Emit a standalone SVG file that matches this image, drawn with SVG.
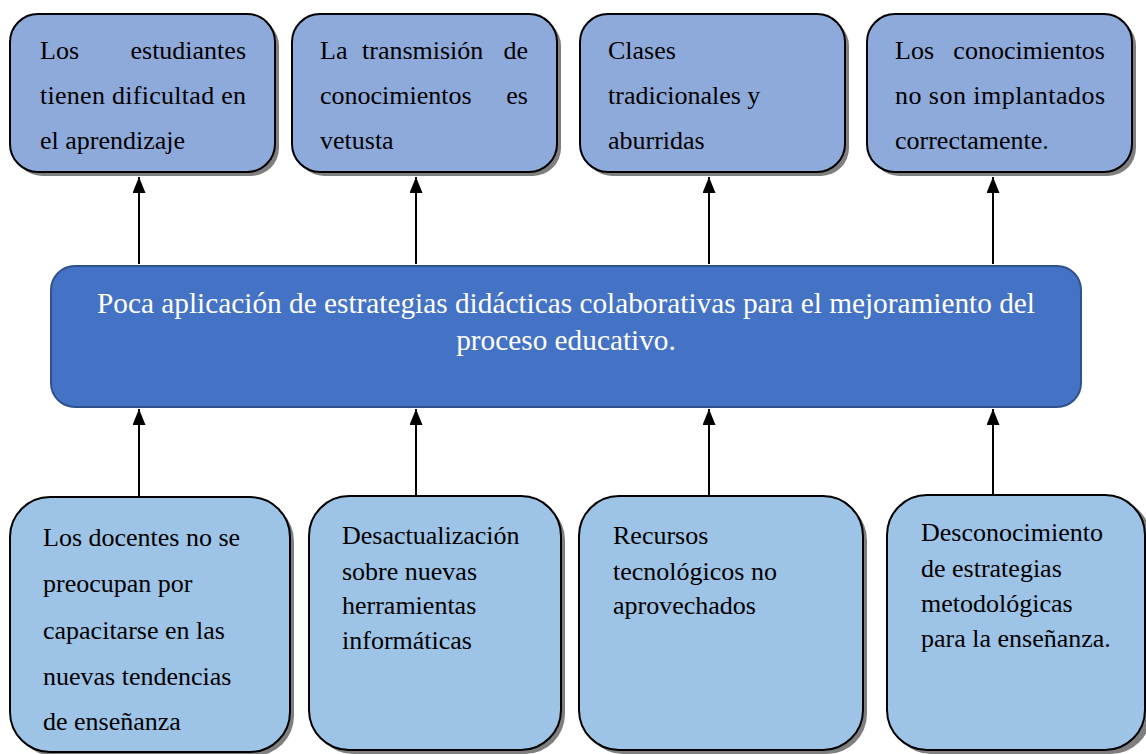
<svg xmlns="http://www.w3.org/2000/svg" width="1146" height="754" viewBox="0 0 1146 754">
<style>
.top{fill:#8EAADB;stroke:#000;stroke-width:2}
.bot{fill:#9DC3E6;stroke:#000;stroke-width:2}
.sh{fill:#7f7f7f}
.t{font-family:"Liberation Serif","Times New Roman",serif;font-size:26px;fill:#000}
.c{font-family:"Liberation Serif","Times New Roman",serif;font-size:29.3px;fill:#fff;text-anchor:middle}
.e{text-anchor:end}
.ln{stroke:#000;stroke-width:2;fill:none;marker-end:url(#ah)}
</style>
<defs>
<marker id="ah" markerWidth="16" markerHeight="13" refX="16" refY="6.5" orient="auto" markerUnits="userSpaceOnUse" viewBox="0 0 16 13">
<path d="M0 0 L16 6.5 L0 13 Z" fill="#000"/>
</marker>
</defs>
<rect width="1146" height="754" fill="#fff"/>
<g id="connectors">
<line class="ln" x1="139" y1="264" x2="139" y2="177"/>
<line class="ln" x1="416" y1="264" x2="416" y2="177"/>
<line class="ln" x1="709" y1="264" x2="709" y2="177"/>
<line class="ln" x1="993" y1="264" x2="993" y2="177"/>
<line class="ln" x1="139" y1="496" x2="139" y2="409"/>
<line class="ln" x1="416" y1="495" x2="416" y2="409"/>
<line class="ln" x1="709" y1="495" x2="709" y2="409"/>
<line class="ln" x1="993" y1="494" x2="993" y2="409"/>
</g>
<g id="top1">
<rect class="sh" x="14" y="18" width="265" height="158" rx="28"/>
<rect class="top" x="10" y="14" width="265" height="158" rx="28"/>
<text class="t" x="40" y="59">Los</text><text class="t e" x="246" y="59">estudiantes</text>
<text class="t" x="40" y="104" textLength="206" lengthAdjust="spacing">tienen dificultad en</text>
<text class="t" x="40" y="149">el aprendizaje</text>
</g>
<g id="top2">
<rect class="sh" x="296" y="18" width="265" height="158" rx="28"/>
<rect class="top" x="292" y="14" width="265" height="158" rx="28"/>
<text class="t" x="320" y="59">La</text><text class="t" x="362" y="59">transmisión</text><text class="t e" x="528" y="59">de</text>
<text class="t" x="320" y="104">conocimientos</text><text class="t e" x="528" y="104">es</text>
<text class="t" x="320" y="149">vetusta</text>
</g>
<g id="top3">
<rect class="sh" x="584" y="18" width="265" height="158" rx="28"/>
<rect class="top" x="580" y="14" width="265" height="158" rx="28"/>
<text class="t" x="608" y="59">Clases</text>
<text class="t" x="608" y="104">tradicionales y</text>
<text class="t" x="608" y="149">aburridas</text>
</g>
<g id="top4">
<rect class="sh" x="871" y="18" width="265" height="158" rx="28"/>
<rect class="top" x="867" y="14" width="265" height="158" rx="28"/>
<text class="t" x="895" y="59">Los</text><text class="t e" x="1105" y="59">conocimientos</text>
<text class="t" x="895" y="104" textLength="210" lengthAdjust="spacing">no son implantados</text>
<text class="t" x="895" y="149">correctamente.</text>
</g>
<g id="center">
<rect x="51" y="266" width="1030" height="141" rx="24" fill="#4472C4" stroke="#2F528F" stroke-width="2"/>
<text class="c" x="566" y="313">Poca aplicación de estrategias didácticas colaborativas para el mejoramiento del</text>
<text class="c" x="566" y="350">proceso educativo.</text>
</g>
<g id="bot1">
<rect class="sh" x="14" y="501" width="280" height="255" rx="40"/>
<rect class="bot" x="10" y="497" width="280" height="255" rx="40"/>
<text class="t" x="43" y="546">Los docentes no se</text>
<text class="t" x="43" y="592">preocupan por</text>
<text class="t" x="43" y="639">capacitarse en las</text>
<text class="t" x="43" y="685">nuevas tendencias</text>
<text class="t" x="43" y="730">de enseñanza</text>
</g>
<g id="bot2">
<rect class="sh" x="313" y="500" width="252" height="254" rx="40"/>
<rect class="bot" x="309" y="496" width="252" height="254" rx="40"/>
<text class="t" x="342" y="544">Desactualización</text>
<text class="t" x="342" y="580">sobre nuevas</text>
<text class="t" x="342" y="614">herramientas</text>
<text class="t" x="342" y="649">informáticas</text>
</g>
<g id="bot3">
<rect class="sh" x="583" y="500" width="284" height="254" rx="40"/>
<rect class="bot" x="579" y="496" width="284" height="254" rx="40"/>
<text class="t" x="613" y="544">Recursos</text>
<text class="t" x="613" y="580">tecnológicos no</text>
<text class="t" x="613" y="614">aprovechados</text>
</g>
<g id="bot4">
<rect class="sh" x="891" y="499" width="260" height="255" rx="40"/>
<rect class="bot" x="887" y="495" width="258" height="255" rx="40"/>
<text class="t" x="921" y="541">Desconocimiento</text>
<text class="t" x="921" y="577">de estrategias</text>
<text class="t" x="921" y="612">metodológicas</text>
<text class="t" x="921" y="647">para la enseñanza.</text>
</g>
</svg>
